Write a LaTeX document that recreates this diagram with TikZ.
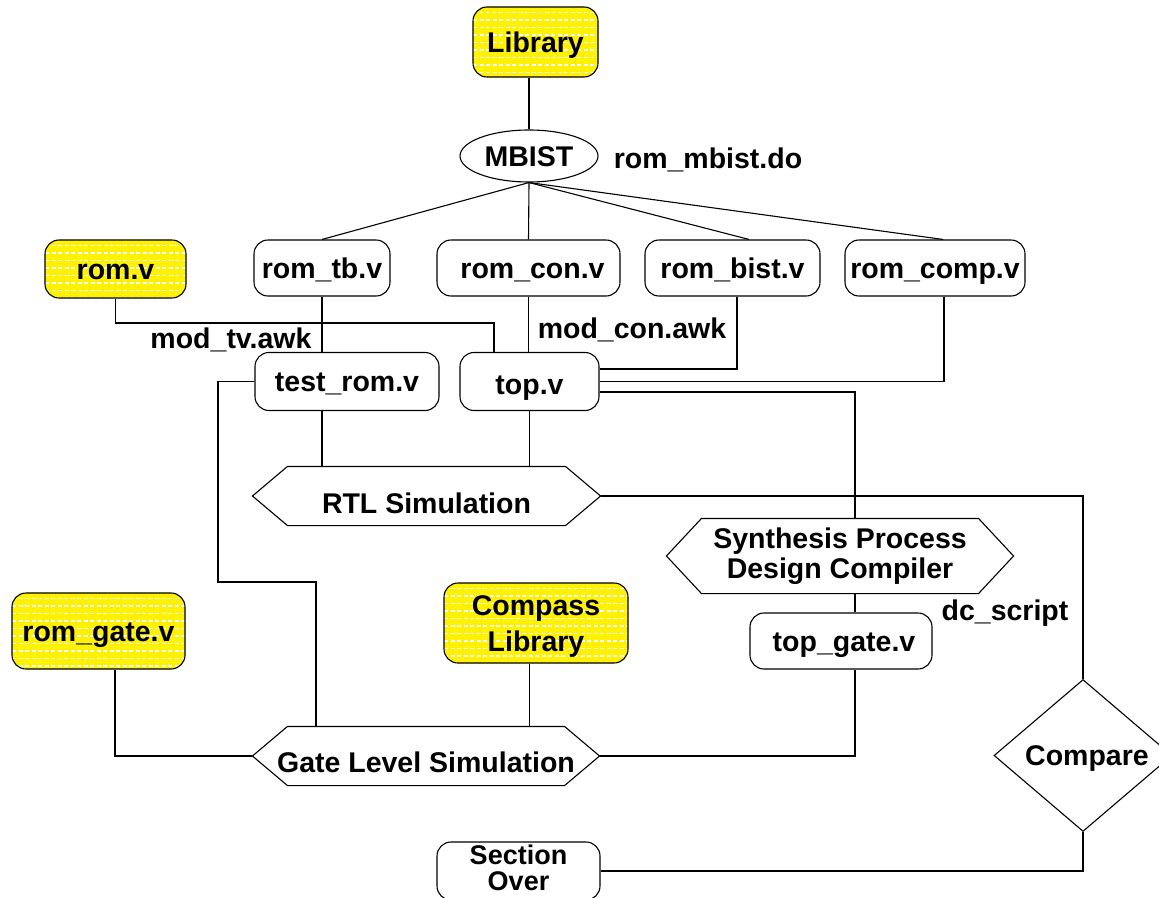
\documentclass[tikz,border=0pt]{standalone}
\usepackage{fontspec}
\setmainfont{Liberation Sans}
\usetikzlibrary{shapes.geometric}
\begin{document}
\begin{tikzpicture}[x=1pt,y=-1pt,
  line width=1.1pt,
  every node/.style={font=\fontsize{28.5}{30}\selectfont\bfseries, inner sep=0pt, align=center,
    text height=20.4pt, text depth=0pt},
  box/.style={draw, rectangle, rounded corners=14pt},
  libbox/.style={box, fill=yellow, path picture={
      \foreach \k in {1,...,12}{
        \draw[white, line width=1.5pt, dash pattern=on 4pt off 2.5pt]
          ([yshift=-\k*7.5pt+2pt]path picture bounding box.north west) --
          ([yshift=-\k*7.5pt+2pt]path picture bounding box.north east);
      }}},
  ovalbox/.style={draw, ellipse},
  hexbox/.style={rectangle},
  decision/.style={draw, diamond},
  lbl/.style={}
]
\useasboundingbox (0,0) rectangle (1159,897);

% upper part: library, MBIST and the generated files
\node[libbox, minimum width=125pt, minimum height=70pt] (lib) at (535.5,42) {Library};
\node[ovalbox, minimum width=138pt, minimum height=52pt] (mbist) at (529,156) {MBIST};
\node[lbl] (mbistdo) at (708,158) {rom\_mbist.do};
\node[libbox, minimum width=141pt, minimum height=58pt] (romv) at (115.5,269) {rom.v};
\node[box, minimum width=136pt, minimum height=56pt] (romtb) at (322,268) {rom\_tb.v};
\node[box, minimum width=183pt, minimum height=56pt] (romcon) at (528.5,268) {\hspace*{8pt}rom\_con.v};
\node[box, minimum width=175pt, minimum height=56pt] (rombist) at (732.5,268) {rom\_bist.v};
\node[box, minimum width=180pt, minimum height=56pt] (romcomp) at (935,268) {rom\_comp.v};
\node[lbl] (modtv) at (231,338) {mod\_tv.awk};
\node[lbl] (modcon) at (632,328) {mod\_con.awk};
\node[box, minimum width=184pt, minimum height=58pt] (testrom) at (347,381.5) {test\_rom.v};
\node[box, minimum width=139pt, minimum height=58pt, text height=25pt] (topv) at (529.5,381.5) {top.v};

% simulation and synthesis steps (hexagons drawn below)
\node[hexbox, minimum width=347pt, minimum height=58pt, text height=34pt] (rtl) at (426.5,496) {RTL Simulation};
\node[hexbox, minimum width=346pt, minimum height=74pt, text height=50.4pt, text depth=6.4pt] (synth) at (840,556) {Synthesis Process\\Design Compiler};
\node[lbl] (dcscript) at (1005,610) {dc\_script};
\node[box, minimum width=182pt, minimum height=56pt] (topgate) at (841,641) {\hspace*{6pt}top\_gate.v};
\node[libbox, minimum width=184pt, minimum height=80pt, text height=56.4pt, text depth=-9.6pt] (compass) at (536,623) {Compass\\[6pt]Library};
\node[libbox, minimum width=173pt, minimum height=76pt] (romgate) at (98.5,631) {rom\_gate.v};
\node[hexbox, minimum width=346pt, minimum height=58pt, text height=32pt] (gate) at (426,756) {Gate Level Simulation};
\node[decision, minimum width=178pt, minimum height=115pt] (cmp) at (1083,755.5) {\hspace*{8pt}Compare};
\node[box, minimum width=163pt, minimum height=58pt, font=\fontsize{27}{30}\selectfont\bfseries,
  text height=45.3pt, text depth=7.3pt] (section) at (518.5,871) {Section\\[-4pt]Over};

% hexagon outlines
\foreach \n in {rtl,synth,gate}{
  \draw (\n.west) -- ([xshift=35pt]\n.north west) -- ([xshift=-35pt]\n.north east)
    -- (\n.east) -- ([xshift=-35pt]\n.south east) -- ([xshift=35pt]\n.south west) -- cycle;
}

% connectors
\draw (mbist.north |- lib.south) -- (mbist.north);
\draw (mbist.south) -- (romtb.north);
\draw (mbist.south) -- (romcon.north);
\draw (mbist.south) -- ([xshift=16.5pt]rombist.north);
\draw (mbist.south) -- ([xshift=8pt]romcomp.north);

\coordinate (j1) at (494,323);
\draw (romv.south) |- (j1) -- (j1 |- topv.north);
\draw (romtb.south) -- (romtb.south |- testrom.north);
\draw (romcon.south) -- (romcon.south |- topv.north);
\draw ([xshift=4.5pt]rombist.south) |- ([yshift=12.5pt]topv.east);
\draw ([xshift=9pt]romcomp.south) |- (topv.east);
\draw ([yshift=-10.5pt]topv.east) -| ([xshift=15pt]synth.north);

\draw (romtb.south |- testrom.south) -- (romtb.south |- rtl.north);
\draw (topv.south) -- (topv.south |- rtl.north);

\coordinate (t1) at (218,582);
\coordinate (t2) at (316,582);
\draw (testrom.west) -| (t1) -- (t2) -- (t2 |- gate.north);

\draw (rtl.east) -| (cmp.north);
\draw ([xshift=15pt]synth.south) -- ([xshift=14pt]topgate.north);
\draw ([xshift=14pt]topgate.south) |- (gate.east);
\draw ([xshift=16.5pt]romgate.south) |- (gate.west);
\draw (topv.south |- compass.south) -- (topv.south |- gate.north);
\draw (cmp.south) |- (section.east);
\end{tikzpicture}
\end{document}
